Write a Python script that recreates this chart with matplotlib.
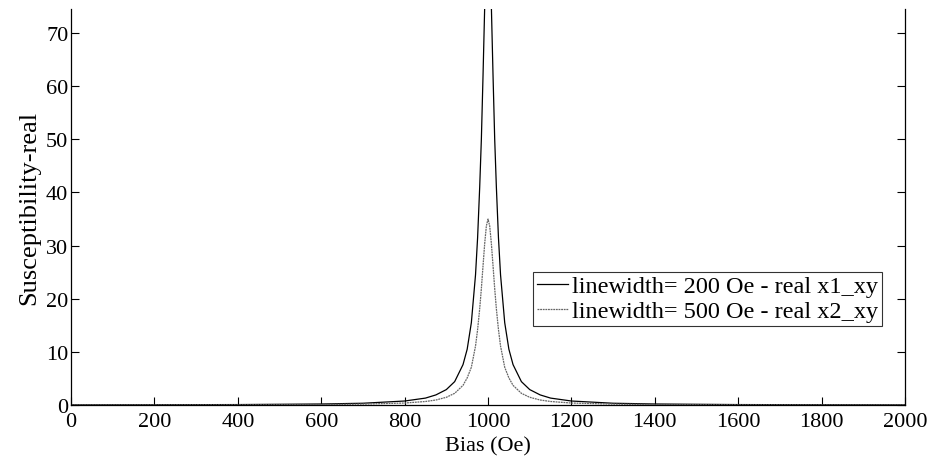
import matplotlib
matplotlib.use('Agg')
import matplotlib.pyplot as plt

# bias field (Oe) and real susceptibility for the two linewidths
bias = [0, 200, 400, 600, 700, 800, 850, 875, 900, 920, 940, 950, 960, 970,
        975, 980, 984, 988, 992, 996, 1000, 1004, 1008, 1012, 1016, 1020,
        1025, 1030, 1040, 1050, 1060, 1080, 1100, 1125, 1150, 1200, 1300,
        1400, 1600, 1800, 2000]
x1_xy = [0.03, 0.05, 0.08, 0.19, 0.33, 0.75, 1.3, 1.9, 2.9, 4.4, 7.6, 10.5,
         15.5, 24.5, 31.5, 41, 50, 62, 75, 85, 90, 85, 75, 62, 50, 41, 31.5,
         24.5, 15.5, 10.5, 7.6, 4.4, 2.9, 1.9, 1.3, 0.75, 0.33, 0.19, 0.08,
         0.05, 0.03]
x2_xy = [0.015, 0.023, 0.04, 0.09, 0.17, 0.37, 0.66, 0.94, 1.45, 2.2, 3.7,
         5.1, 7.1, 11.1, 14.2, 18.1, 21.9, 26.2, 30.4, 33.7, 35, 33.7, 30.4,
         26.2, 21.9, 18.1, 14.2, 11.1, 7.1, 5.1, 3.7, 2.2, 1.45, 0.94, 0.66,
         0.37, 0.17, 0.09, 0.04, 0.023, 0.015]

labels = ['linewidth= 200 Oe - real x1_xy', 'linewidth= 500 Oe - real x2_xy']

plt.rcParams['font.family'] = ['Liberation Serif', 'DejaVu Serif']
plt.rcParams['font.size'] = 16

fig = plt.figure(figsize=(9.36, 4.64), dpi=100)
ax = fig.add_axes([0.0759, 0.125, 0.891, 0.853])

ax.plot(bias, x1_xy, color='black', linewidth=0.9, label=labels[0])
ax.plot(bias, x2_xy, color='#666666', linewidth=0.9, linestyle=(0, (1.5, 0.6)),
        label=labels[1])

ax.set_xlim(0, 2000)
ax.set_ylim(0, 74.5)
ax.set_xticks(range(0, 2001, 200))
ax.set_yticks(range(0, 71, 10))
ax.tick_params(direction='in', length=5.5, width=0.8, right=True,
               labelsize=16)
ax.tick_params(axis='x', pad=5)
ax.tick_params(axis='y', pad=2)
ax.spines['top'].set_visible(False)
for s in ['left', 'right', 'bottom']:
    ax.spines[s].set_linewidth(0.9)

ax.set_xlabel('Bias (Oe)', fontsize=16, labelpad=4)
ax.set_ylabel('Susceptibility-real', fontsize=19, labelpad=4)

leg = ax.legend(loc='lower right', bbox_to_anchor=(0.972, 0.2),
                frameon=True, fancybox=False, fontsize=17.5, handlelength=1.3,
                handletextpad=0.15, borderpad=0.15, labelspacing=0.12,
                borderaxespad=0)
leg.get_frame().set_edgecolor('black')
leg.get_frame().set_linewidth(0.8)

fig.savefig('out.png', dpi=100)
